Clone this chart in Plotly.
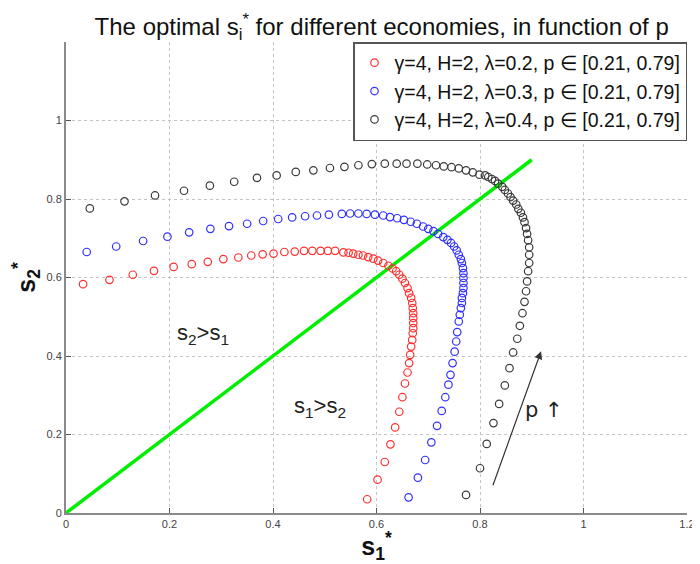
import plotly.graph_objects as go

# --- data ---
red_x = [0.033, 0.084, 0.129, 0.170, 0.208, 0.243, 0.274, 0.304, 0.333, 0.358, 0.380, 0.401,
         0.422, 0.442, 0.460, 0.476, 0.492, 0.506, 0.520, 0.536, 0.546, 0.555, 0.565, 0.574,
         0.584, 0.594, 0.603, 0.613, 0.623, 0.631, 0.638, 0.644, 0.650, 0.655, 0.660, 0.663,
         0.667, 0.669, 0.670, 0.671, 0.671, 0.671, 0.671, 0.670, 0.669, 0.667, 0.665, 0.663,
         0.660, 0.655, 0.650, 0.644, 0.636, 0.627, 0.616, 0.602, 0.582]
red_y = [0.583, 0.594, 0.607, 0.617, 0.627, 0.634, 0.640, 0.647, 0.651, 0.656, 0.659, 0.661,
         0.665, 0.666, 0.668, 0.668, 0.668, 0.668, 0.668, 0.664, 0.663, 0.661, 0.658, 0.656,
         0.652, 0.648, 0.643, 0.637, 0.630, 0.623, 0.616, 0.607, 0.597, 0.586, 0.573, 0.560,
         0.548, 0.535, 0.522, 0.509, 0.497, 0.484, 0.471, 0.458, 0.441, 0.424, 0.403, 0.382,
         0.358, 0.330, 0.295, 0.258, 0.218, 0.175, 0.130, 0.085, 0.035]

blue_x = [0.040, 0.097, 0.149, 0.196, 0.238, 0.279, 0.315, 0.350, 0.381, 0.410, 0.437, 0.462,
          0.485, 0.508, 0.533, 0.549, 0.565, 0.581, 0.597, 0.613, 0.626, 0.640, 0.653, 0.666,
          0.678, 0.690, 0.700, 0.710, 0.719, 0.729, 0.737, 0.744, 0.750, 0.755, 0.759, 0.763,
          0.765, 0.767, 0.768, 0.768, 0.768, 0.768, 0.767, 0.765, 0.765, 0.763, 0.761, 0.759,
          0.756, 0.754, 0.751, 0.747, 0.743, 0.739, 0.733, 0.726, 0.717, 0.706, 0.694, 0.680,
          0.662]
blue_y = [0.665, 0.679, 0.693, 0.704, 0.715, 0.724, 0.731, 0.737, 0.744, 0.749, 0.753, 0.756,
          0.758, 0.760, 0.762, 0.763, 0.763, 0.762, 0.760, 0.758, 0.754, 0.751, 0.747, 0.742,
          0.737, 0.730, 0.724, 0.718, 0.711, 0.703, 0.696, 0.688, 0.679, 0.669, 0.658, 0.647,
          0.637, 0.624, 0.611, 0.599, 0.586, 0.573, 0.560, 0.548, 0.535, 0.522, 0.505, 0.488,
          0.461, 0.437, 0.411, 0.382, 0.352, 0.327, 0.295, 0.260, 0.222, 0.180, 0.135, 0.090,
          0.040]

black_x = [0.046, 0.113, 0.172, 0.228, 0.278, 0.325, 0.369, 0.407, 0.444, 0.478, 0.510, 0.538,
           0.565, 0.591, 0.616, 0.639, 0.658, 0.679, 0.698, 0.715, 0.730, 0.745, 0.759, 0.773,
           0.786, 0.799, 0.810, 0.816, 0.823, 0.829, 0.835, 0.843, 0.848, 0.854, 0.859, 0.864,
           0.870, 0.874, 0.879, 0.883, 0.886, 0.889, 0.891, 0.893, 0.895, 0.895, 0.895, 0.893,
           0.891, 0.889, 0.886, 0.882, 0.877, 0.872, 0.864, 0.857, 0.848, 0.837, 0.826, 0.813,
           0.800, 0.773]
black_y = [0.776, 0.794, 0.809, 0.821, 0.834, 0.844, 0.854, 0.860, 0.869, 0.873, 0.879, 0.882,
           0.886, 0.889, 0.890, 0.890, 0.890, 0.890, 0.888, 0.886, 0.883, 0.881, 0.878, 0.873,
           0.868, 0.862, 0.860, 0.856, 0.851, 0.846, 0.839, 0.831, 0.823, 0.814, 0.805, 0.796,
           0.786, 0.775, 0.765, 0.753, 0.741, 0.726, 0.711, 0.695, 0.677, 0.658, 0.637, 0.616,
           0.590, 0.565, 0.538, 0.509, 0.477, 0.444, 0.409, 0.369, 0.325, 0.278, 0.229, 0.176,
           0.114, 0.046]

diag_x = [0, 0.9]
diag_y = [0, 0.9]

series_names = ["γ=4, H=2, λ=0.2, p ∈ [0.21, 0.79]",
                "γ=4, H=2, λ=0.3, p ∈ [0.21, 0.79]",
                "γ=4, H=2, λ=0.4, p ∈ [0.21, 0.79]"]
series_colors = ["#ff3030", "#3030ff", "#3a3a3a"]

x_ticks = [0, 0.2, 0.4, 0.6, 0.8, 1, 1.2]
x_tick_labels = ["0", "0.2", "0.4", "0.6", "0.8", "1", "1.2"]
y_ticks = [0, 0.2, 0.4, 0.6, 0.8, 1]
y_tick_labels = ["0", "0.2", "0.4", "0.6", "0.8", "1"]

FONT = "Liberation Sans, Arial, sans-serif"

fig = go.Figure()

fig.add_trace(go.Scatter(x=diag_x, y=diag_y, mode="lines",
                         line=dict(color="#00ee00", width=3.5), showlegend=False,
                         hoverinfo="skip"))

for i, (xs, ys, name, col) in enumerate(zip([red_x, blue_x, black_x],
                                            [red_y, blue_y, black_y],
                                            series_names, series_colors)):
    fig.add_trace(go.Scatter(x=xs, y=ys, mode="markers", name=name,
                             legendgroup=f"g{i}",
                             marker=dict(symbol="circle-open", size=7.5,
                                         color=col, line=dict(width=1.2, color=col))))

fig.add_annotation(x=0.918, y=0.412, ax=0.824, ay=0.067, xref="x", yref="y",
                   axref="x", ayref="y", text="", showarrow=True,
                   arrowhead=2, arrowsize=1.3, arrowwidth=1.2, arrowcolor="#333333")
fig.add_annotation(x=0.924, y=0.262, xref="x", yref="y", text="p ↑", showarrow=False,
                   font=dict(size=21, color="#222222", family="DejaVu Sans"))
fig.add_annotation(x=0.265, y=0.455, xref="x", yref="y",
                   text="s<sub>2</sub>>s<sub>1</sub>", showarrow=False,
                   font=dict(size=22, color="#222222", family=FONT))
fig.add_annotation(x=0.49, y=0.27, xref="x", yref="y",
                   text="s<sub>1</sub>>s<sub>2</sub>", showarrow=False,
                   font=dict(size=22, color="#222222", family=FONT))

fig.update_layout(
    width=692, height=556,
    margin=dict(l=58, r=13, t=34, b=51),
    paper_bgcolor="white", plot_bgcolor="white",
    font=dict(family=FONT, color="#222222"),
    title=dict(text="The optimal s<sub>i</sub><sup>*</sup> for different economies, in function of p",
               x=0.54, xanchor="center", y=0.982, yanchor="top",
               font=dict(size=24, color="#111111", family=FONT)),
    legend=dict(x=1, y=1, xanchor="right", yanchor="top", bgcolor="white",
                bordercolor="#555555", borderwidth=1.5,
                font=dict(size=19.5, color="#111111", family=FONT),
                itemwidth=30, tracegroupgap=0),
    xaxis=dict(range=[0, 1.2], tickvals=x_ticks, ticktext=x_tick_labels,
               showgrid=True, gridcolor="#c4c4c4", griddash="dot", gridwidth=1,
               zeroline=False, showline=True, linecolor="#8a8a8a", linewidth=2,
               ticks="inside", ticklen=5, tickcolor="#555555", automargin=False,
               tickfont=dict(size=11, color="#444444"),
               title=dict(text="<b>s<sub>1</sub><sup>*</sup></b>", standoff=5,
                          font=dict(size=25, color="#111111"))),
    yaxis=dict(range=[0, 1.2], tickvals=y_ticks, ticktext=y_tick_labels,
               showgrid=True, gridcolor="#c4c4c4", griddash="dot", gridwidth=1,
               zeroline=False, showline=True, linecolor="#8a8a8a", linewidth=2,
               ticks="inside", ticklen=5, tickcolor="#555555", automargin=False,
               tickfont=dict(size=11, color="#444444"),
               title=dict(text="<b>s<sub>2</sub><sup>*</sup></b>", standoff=4,
                          font=dict(size=25, color="#111111"))),
)

fig.write_html("out.html")
